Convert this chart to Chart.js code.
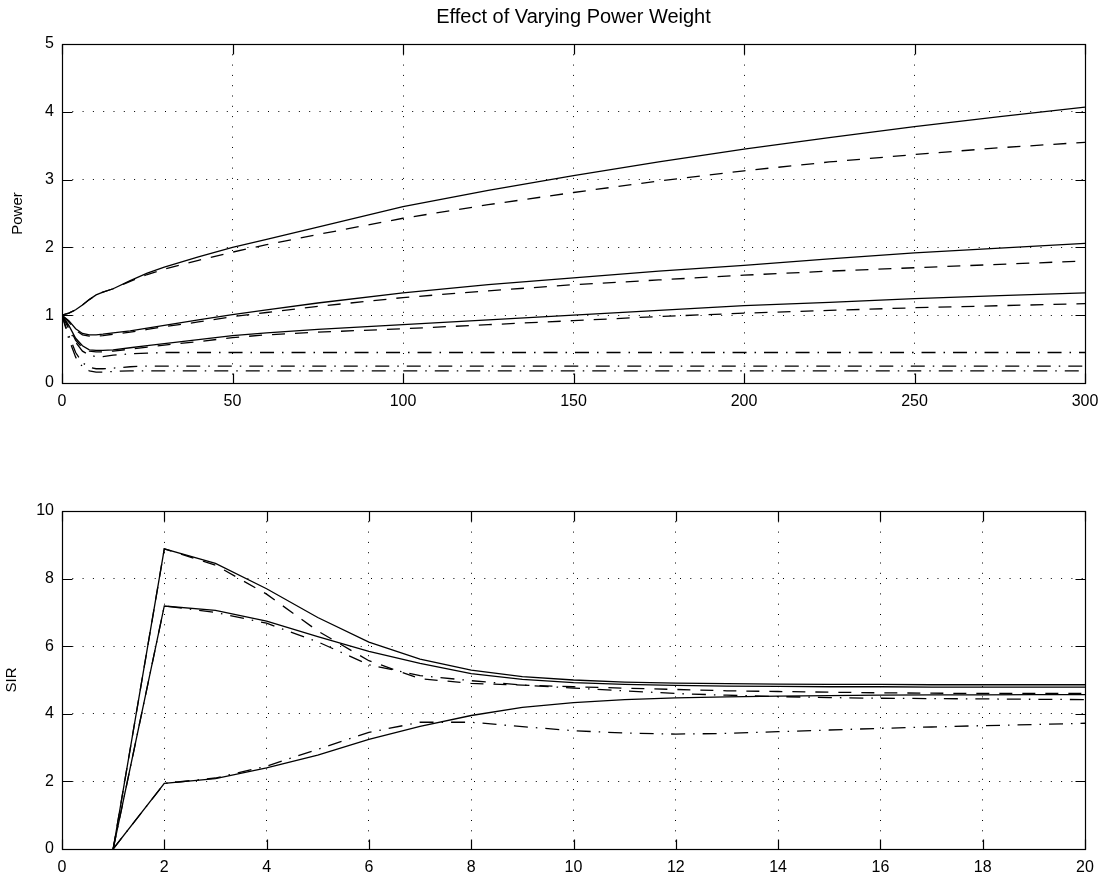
<!DOCTYPE html>
<html>
<head>
<meta charset="utf-8">
<title>Effect of Varying Power Weight</title>
<script src="https://cdn.jsdelivr.net/npm/chart.js@4/dist/chart.umd.min.js"></script>
<style>
  html, body { margin: 0; padding: 0; background: #fff; }
  #wrap { position: relative; width: 1110px; height: 888px; }
  #wrap canvas { position: absolute; left: 0; }
  #power { top: 0; }
  #sir { top: 430px; }
</style>
</head>
<body>
<div id="wrap">
  <canvas id="power" width="1110" height="430"></canvas>
  <canvas id="sir" width="1110" height="458"></canvas>
</div>
<script>
/* Puissance et SIR pour plusieurs poids de puissance.
   Trait plein / tirets / tiret-point = trois variantes par poids. */

// --- puissance (haut) ---
const powerX = [0, 2, 4, 6, 8, 10, 12, 15, 20, 25, 30, 40, 50, 60, 75, 100, 125, 150, 175, 200, 225, 250, 275, 300];

const powerSolid1 = [1.00, 1.03, 1.08, 1.15, 1.23, 1.30, 1.34, 1.39, 1.51, 1.62, 1.71, 1.86, 2.00, 2.12, 2.30, 2.60, 2.84, 3.06, 3.26, 3.45, 3.62, 3.78, 3.93, 4.07];
const powerDash1  = [1.00, 1.03, 1.08, 1.15, 1.23, 1.30, 1.34, 1.39, 1.50, 1.60, 1.68, 1.81, 1.93, 2.04, 2.19, 2.43, 2.63, 2.81, 2.98, 3.13, 3.26, 3.37, 3.47, 3.55];
const powerSolid2 = [1.00, 0.92, 0.80, 0.73, 0.71, 0.71, 0.72, 0.74, 0.77, 0.81, 0.85, 0.93, 1.01, 1.08, 1.18, 1.33, 1.45, 1.55, 1.65, 1.735, 1.83, 1.92, 1.99, 2.06];
const powerDash2  = [1.00, 0.90, 0.78, 0.71, 0.69, 0.69, 0.70, 0.72, 0.75, 0.79, 0.83, 0.90, 0.98, 1.04, 1.13, 1.26, 1.36, 1.45, 1.52, 1.59, 1.65, 1.70, 1.75, 1.80];
const powerSolid3 = [1.00, 0.85, 0.66, 0.55, 0.49, 0.48, 0.48, 0.49, 0.52, 0.55, 0.58, 0.64, 0.70, 0.74, 0.79, 0.86, 0.93, 1.00, 1.07, 1.14, 1.19, 1.245, 1.29, 1.33];
const powerDash3  = [1.00, 0.83, 0.63, 0.52, 0.47, 0.46, 0.46, 0.47, 0.50, 0.53, 0.56, 0.61, 0.67, 0.71, 0.75, 0.80, 0.86, 0.92, 0.98, 1.03, 1.07, 1.11, 1.14, 1.17];
const powerDot1   = [1.00, 0.80, 0.60, 0.47, 0.41, 0.39, 0.39, 0.41, 0.43, 0.44, 0.45, 0.45, 0.45, 0.45, 0.45, 0.45, 0.45, 0.45, 0.45, 0.45, 0.45, 0.45, 0.45, 0.45];
const powerDot2   = [1.00, 0.70, 0.45, 0.30, 0.23, 0.21, 0.21, 0.22, 0.24, 0.25, 0.25, 0.25, 0.25, 0.25, 0.25, 0.25, 0.25, 0.25, 0.25, 0.25, 0.25, 0.25, 0.25, 0.25];
const powerDot3   = [1.00, 0.65, 0.38, 0.24, 0.18, 0.16, 0.16, 0.17, 0.18, 0.18, 0.18, 0.18, 0.18, 0.18, 0.18, 0.18, 0.18, 0.18, 0.18, 0.18, 0.18, 0.18, 0.18, 0.18];

// --- SIR (bas) ---
const sirX = [1, 2, 3, 4, 5, 6, 7, 8, 9, 10, 11, 12, 13, 14, 15, 16, 17, 18, 19, 20];

const sirSolid1 = [0, 8.88, 8.45, 7.70, 6.85, 6.12, 5.62, 5.29, 5.10, 5.00, 4.94, 4.91, 4.89, 4.88, 4.87, 4.87, 4.86, 4.86, 4.86, 4.86];
const sirSolid2 = [0, 7.19, 7.06, 6.74, 6.28, 5.85, 5.49, 5.19, 5.02, 4.92, 4.87, 4.84, 4.82, 4.81, 4.80, 4.80, 4.79, 4.79, 4.79, 4.79];
const sirSolid3 = [0, 1.94, 2.08, 2.40, 2.78, 3.24, 3.63, 3.95, 4.19, 4.33, 4.42, 4.47, 4.50, 4.52, 4.54, 4.55, 4.56, 4.56, 4.57, 4.57];
const sirDash1  = [0, 8.88, 8.40, 7.54, 6.45, 5.57, 5.04, 4.90, 4.85, 4.80, 4.76, 4.72, 4.68, 4.66, 4.64, 4.62, 4.61, 4.60, 4.60, 4.60];
const sirDot2   = [0, 7.19, 7.00, 6.68, 6.13, 5.45, 5.13, 4.98, 4.85, 4.76, 4.68, 4.60, 4.55, 4.51, 4.48, 4.46, 4.45, 4.44, 4.43, 4.42];
const sirDot3   = [0, 1.94, 2.10, 2.45, 2.95, 3.45, 3.75, 3.75, 3.62, 3.50, 3.43, 3.40, 3.42, 3.47, 3.52, 3.57, 3.61, 3.65, 3.68, 3.72];

const FONT = "'Liberation Sans', Arial, Helvetica, sans-serif";
const DASH = [13, 10];
const DASHDOT = [14, 8, 1.5, 8];

function pts(xs, ys) {
  return xs.map((x, i) => ({ x: x, y: ys[i] }));
}

function line(xs, ys, dash) {
  return {
    data: pts(xs, ys),
    borderColor: '#000',
    borderWidth: 1.3,
    borderDash: dash || [],
    pointRadius: 0,
    tension: 0,
    fill: false,
  };
}

// cadre noir + graduations vers l'intérieur sur les quatre côtés
const boxTicks = {
  id: 'boxTicks',
  afterDatasetsDraw(chart) {
    const { ctx, chartArea: a, scales } = chart;
    const L = 10;
    const l = Math.round(a.left) + 0.5, r = Math.round(a.right) + 0.5;
    const t = Math.round(a.top) + 0.5, b = Math.round(a.bottom) + 0.5;
    ctx.save();
    ctx.strokeStyle = '#000';
    ctx.lineWidth = 1.2;
    ctx.setLineDash([]);
    ctx.strokeRect(l, t, r - l, b - t);
    ctx.beginPath();
    scales.x.ticks.forEach(tk => {
      const px = Math.round(scales.x.getPixelForValue(tk.value)) + 0.5;
      ctx.moveTo(px, b); ctx.lineTo(px, b - L);
      ctx.moveTo(px, t); ctx.lineTo(px, t + L);
    });
    scales.y.ticks.forEach(tk => {
      const py = Math.round(scales.y.getPixelForValue(tk.value)) + 0.5;
      ctx.moveTo(l, py); ctx.lineTo(l + L, py);
      ctx.moveTo(r, py); ctx.lineTo(r - L, py);
    });
    ctx.stroke();
    ctx.restore();
  }
};

function axes(xMin, xMax, xStep, yMin, yMax, yStep, yTitle, xHeight, titlePad) {
  const grid = { color: '#000', lineWidth: 1, drawTicks: false };
  const border = { display: false, dash: [1, 9.3] };
  return {
    x: {
      type: 'linear', min: xMin, max: xMax,
      grid: grid, border: border,
      ticks: { stepSize: xStep, color: '#000', padding: 9, maxRotation: 0, font: { family: FONT, size: 16 } },
      afterFit: s => { s.height = xHeight; },
    },
    y: {
      type: 'linear', min: yMin, max: yMax,
      grid: grid, border: border,
      ticks: { stepSize: yStep, color: '#000', padding: 8, font: { family: FONT, size: 16 } },
      title: { display: true, text: yTitle, color: '#000', padding: { top: titlePad, bottom: 0 }, font: { family: FONT, size: 15 } },
      afterFit: s => { s.width = 62; },
    }
  };
}

new Chart(document.getElementById('power'), {
  type: 'line',
  data: {
    datasets: [
      line(powerX, powerSolid1), line(powerX, powerDash1, DASH),
      line(powerX, powerSolid2), line(powerX, powerDash2, DASH),
      line(powerX, powerSolid3), line(powerX, powerDash3, DASH),
      line(powerX, powerDot1, DASHDOT), line(powerX, powerDot2, DASHDOT), line(powerX, powerDot3, DASHDOT),
    ]
  },
  options: {
    responsive: false,
    animation: false,
    layout: { padding: { left: 0, right: 25, top: 0, bottom: 0 } },
    plugins: {
      legend: { display: false },
      tooltip: { enabled: false },
      title: {
        display: true,
        fullSize: false,
        text: 'Effect of Varying Power Weight',
        color: '#000',
        font: { family: FONT, size: 20, weight: 'normal', lineHeight: 1.2 },
        padding: { top: 5, bottom: 15 },
      },
    },
    scales: axes(0, 300, 50, 0, 5, 1, 'Power', 47, 9),
  },
  plugins: [boxTicks],
});

new Chart(document.getElementById('sir'), {
  type: 'line',
  data: {
    datasets: [
      line(sirX, sirSolid1), line(sirX, sirDash1, DASH),
      line(sirX, sirSolid2), line(sirX, sirDot2, DASHDOT),
      line(sirX, sirSolid3), line(sirX, sirDot3, DASHDOT),
    ]
  },
  options: {
    responsive: false,
    animation: false,
    layout: { padding: { left: 0, right: 25, top: 81, bottom: 0 } },
    plugins: { legend: { display: false }, tooltip: { enabled: false } },
    scales: axes(0, 20, 2, 0, 10, 2, 'SIR', 39, 3),
  },
  plugins: [boxTicks],
});
</script>
</body>
</html>
